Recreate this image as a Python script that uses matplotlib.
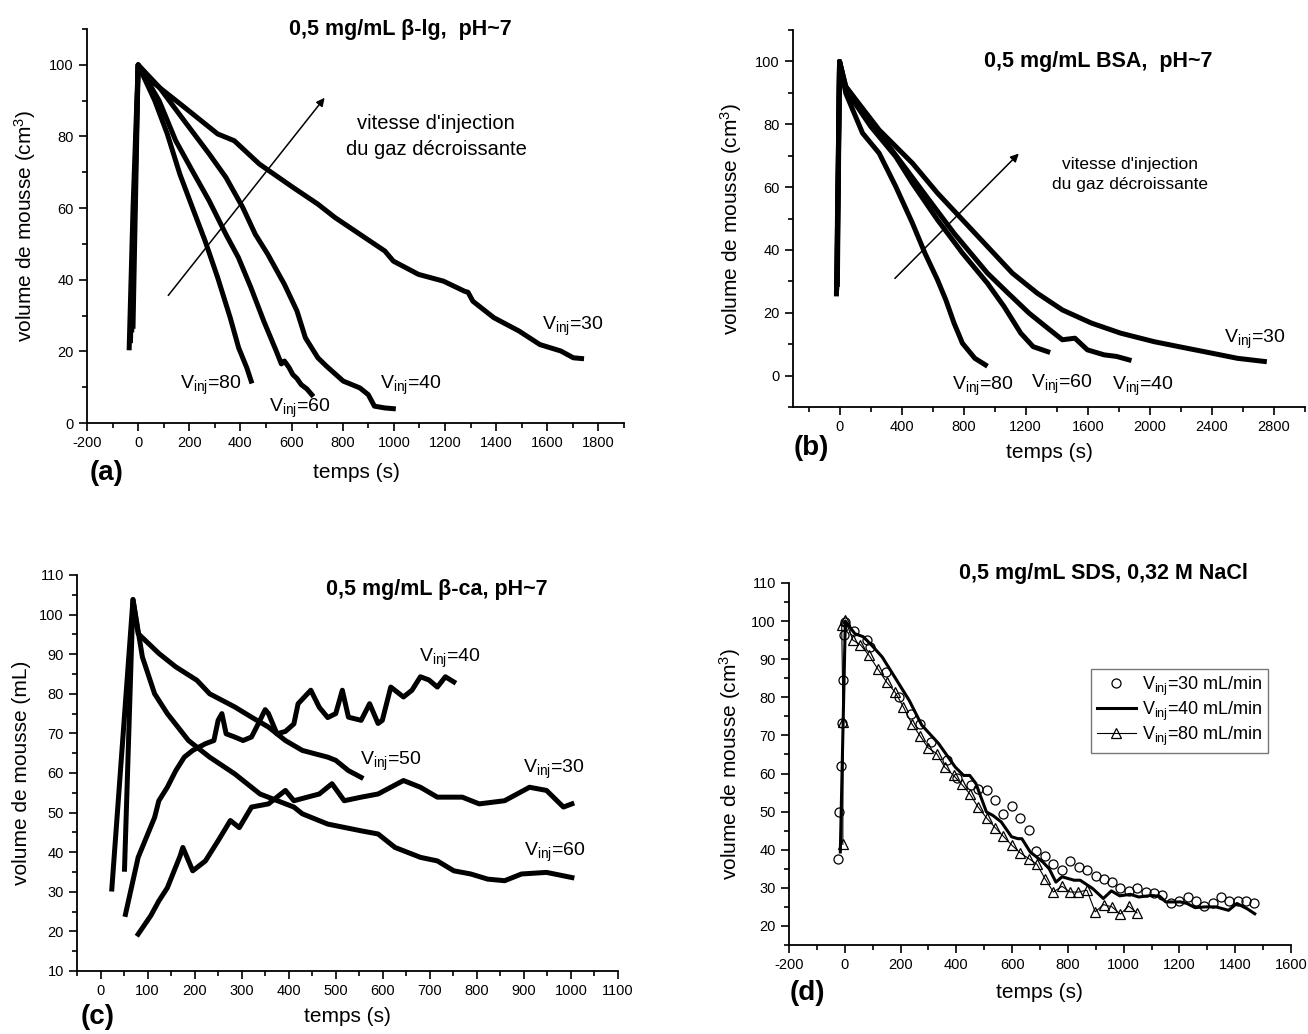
import numpy as np
import matplotlib.pyplot as plt
from matplotlib.ticker import MultipleLocator

plt.rcParams['font.family'] = ['Liberation Sans', 'DejaVu Sans']
plt.rcParams['axes.unicode_minus'] = False
plt.rcParams['mathtext.fontset'] = 'custom'
plt.rcParams['mathtext.rm'] = 'Liberation Sans'
plt.rcParams['mathtext.it'] = 'Liberation Sans:italic'
plt.rcParams['mathtext.bf'] = 'Liberation Sans:bold'
plt.rcParams['mathtext.default'] = 'regular'

# ============================================================================
# Data
# ============================================================================
# (a) 0,5 mg/mL beta-lg
a_t80 = [-35, -20, 0, 65, 114, 163, 212, 262, 311, 360, 393, 425, 442]
a_v80 = [21, 60, 100, 90.0, 80.7, 69.5, 60.2, 50.8, 40.6, 29.4, 21.0, 15.4, 11.7]
a_t60 = [-30, 0, 82, 147, 212, 278, 343, 392, 441, 491, 540, 560, 572, 590, 605, 620, 638, 660, 679]
a_v60 = [23, 100, 90.0, 78.8, 70.4, 62.0, 52.7, 46.2, 37.8, 28.5, 20.1, 16.5, 17.3, 15.5, 13.5, 12.5, 10.7, 9.5, 7.9]
a_t40 = [-25, 0, 82, 180, 278, 343, 409, 458, 507, 572, 621, 654, 703, 736, 802, 867, 900, 924, 965, 998]
a_v40 = [26, 100, 93.8, 84.4, 75.1, 68.6, 60.2, 52.7, 47.1, 38.7, 31.3, 23.8, 18.2, 15.9, 11.7, 9.8, 7.9, 4.7, 4.2, 4.0]
a_t30 = [-20, 0, 49, 180, 311, 376, 474, 605, 703, 769, 867, 965, 998, 1096, 1194, 1276, 1290, 1309,
         1391, 1489, 1571, 1653, 1702, 1734]
a_v30 = [27, 100, 95.6, 88.2, 80.7, 78.8, 72.3, 65.8, 61.1, 57.4, 52.7, 48.0, 45.2, 41.5, 39.6, 36.8,
         36.5, 34.0, 29.4, 25.7, 21.9, 20.1, 18.2, 18.0]

# (b) 0,5 mg/mL BSA
b_t80 = [-20, 0, 40, 148, 255, 362, 470, 550, 631, 685, 738, 792, 872, 940]
b_v80 = [26, 100, 89.9, 77.2, 70.8, 60.2, 48.5, 39.0, 30.5, 24.1, 16.7, 10.3, 5.5, 3.4]
b_t60 = [-18, 0, 40, 201, 362, 470, 631, 792, 953, 1060, 1168, 1248, 1342]
b_v60 = [28, 100, 91.0, 79.3, 69.7, 61.2, 49.6, 39.0, 29.4, 22.0, 13.5, 9.2, 7.6]
b_t40 = [-16, 0, 40, 255, 416, 577, 738, 899, 953, 1087, 1221, 1329, 1436, 1517, 1597, 1705, 1785, 1866]
b_v40 = [30, 100, 92.0, 77.2, 66.6, 55.9, 45.3, 35.8, 32.6, 26.2, 19.9, 15.6, 11.4, 11.9, 8.2, 6.6, 6.1, 5.0]
b_t30 = [-14, 0, 40, 255, 470, 631, 792, 953, 1114, 1275, 1436, 1624, 1812, 2027, 2188, 2403, 2564, 2738]
b_v30 = [29, 100, 92.0, 78.2, 67.6, 58.1, 49.6, 41.1, 32.6, 26.2, 20.9, 16.7, 13.5, 10.8, 9.2, 7.1, 5.5, 4.5]

# (c) 0,5 mg/mL beta-ca
c_t40 = [53, 80, 115, 124, 142, 160, 178, 196, 223, 241, 250, 258, 267, 285, 303, 321, 339, 350,
         357, 375, 393, 411, 420, 447, 465, 483, 500, 514, 527, 554, 572, 590, 599, 617, 644, 662,
         680, 698, 716, 733, 751]
c_v40 = [24.3, 38.7, 48.8, 53.0, 56.4, 60.6, 64.0, 65.7, 67.4, 68.2, 73.3, 75.0, 69.9, 69.1, 68.2,
         69.1, 73.3, 76.0, 75.0, 69.9, 70.5, 72.4, 77.5, 80.9, 76.6, 74.0, 75.0, 80.9, 74.1, 73.3,
         77.5, 72.5, 73.3, 81.7, 79.2, 80.9, 84.3, 83.5, 81.7, 84.3, 83.0]
c_t30 = [80, 107, 124, 142, 169, 175, 196, 223, 250, 276, 295, 321, 357, 393, 411, 465, 492, 518,
         554, 590, 644, 680, 716, 769, 805, 859, 912, 948, 984, 1002]
c_v30 = [19.3, 24.0, 27.7, 31.0, 39.0, 41.2, 35.3, 37.8, 42.9, 48.0, 46.2, 51.4, 52.2, 55.6, 53.0,
         54.7, 57.3, 53.0, 53.9, 54.7, 58.1, 56.4, 53.9, 53.9, 52.2, 53.0, 56.4, 55.6, 51.4, 52.2]
c_t50 = [51, 69, 80, 124, 160, 205, 232, 285, 321, 357, 393, 429, 483, 500, 527, 554]
c_v50 = [35.7, 103.8, 95.2, 90.2, 86.8, 83.4, 80.0, 76.7, 74.1, 71.6, 68.2, 65.7, 64.0, 63.2, 60.6, 58.9]
c_t60 = [24, 69, 89, 115, 142, 187, 232, 285, 339, 411, 429, 483, 554, 590, 626, 680, 716, 751,
         787, 823, 859, 895, 948, 1002]
c_v60 = [30.7, 103.8, 89.3, 80.0, 75.0, 68.2, 64.0, 59.8, 54.7, 51.4, 49.7, 47.1, 45.4, 44.6, 41.2,
         38.7, 37.8, 35.3, 34.5, 33.2, 32.8, 34.5, 34.9, 33.6]

# (d) 0,5 mg/mL SDS, 0,32 M NaCl
d_t30 = [-23, -22, -14, -10, -7, -4, 2, 33, 81, 89, 147, 195, 237, 271, 309, 366, 404, 451, 476,
         511, 539, 569, 601, 629, 659, 687, 719, 747, 780, 808, 840, 868, 900, 930, 958, 988, 1019,
         1049, 1079, 1109, 1139, 1169, 1199, 1229, 1259, 1289, 1319, 1349, 1379, 1409, 1439, 1469]
d_v30 = [37.5, 49.9, 61.9, 73.3, 84.5, 96.4, 99.8, 97.4, 95.0, 93.2, 86.7, 80.1, 75.7, 72.9, 68.3,
         63.5, 58.7, 56.9, 56.0, 55.6, 53.0, 49.5, 51.5, 48.2, 45.3, 39.6, 38.3, 36.2, 34.6, 37.1,
         35.5, 34.6, 33.0, 32.4, 31.5, 30.0, 29.2, 30.0, 28.9, 28.7, 28.2, 25.9, 26.6, 27.6, 26.6,
         25.2, 26.0, 27.6, 26.6, 26.6, 26.6, 25.9]
d_t40 = [-16, 2, 36, 66, 96, 134, 186, 231, 276, 336, 396, 426, 448, 470, 508, 531, 561, 598, 621,
         635, 665, 710, 733, 757, 779, 822, 844, 889, 927, 956, 986, 1024, 1054, 1099, 1129, 1151,
         1204, 1227, 1256, 1293, 1331, 1376, 1406, 1443, 1470]
d_v40 = [39.4, 100, 96.7, 95.9, 93.7, 90.6, 84.5, 79.2, 72.7, 67.9, 61.7, 59.5, 59.5, 57.4, 49.9,
         49.0, 47.3, 43.4, 42.9, 42.9, 39.4, 36.8, 35.0, 31.5, 32.9, 32.0, 32.0, 29.8, 27.2, 29.2,
         27.9, 28.3, 27.6, 28.0, 27.8, 26.3, 26.3, 25.9, 24.8, 25.0, 25.0, 24.1, 25.9, 24.5, 23.2]
d_t80 = [-7, -6, -11, 2, 29, 56, 87, 118, 150, 180, 210, 240, 270, 298, 330, 358, 390, 419, 448,
         478, 510, 539, 569, 599, 629, 659, 689, 718, 748, 779, 808, 838, 868, 898, 928, 958, 988,
         1018, 1048]
d_v80 = [41.4, 73.5, 98.9, 100.2, 95.0, 93.8, 91.0, 87.5, 84.0, 81.4, 77.5, 73.1, 69.9, 66.8, 65.2,
         61.7, 59.5, 57.2, 54.7, 51.2, 48.2, 45.8, 43.5, 41.2, 39.2, 37.7, 36.2, 32.4, 28.9, 30.4,
         28.9, 28.9, 29.4, 23.7, 25.6, 25.0, 23.1, 25.2, 23.4]

# ============================================================================
# Figure
# ============================================================================
W, H = 1308, 1034
fig = plt.figure(figsize=(W / 100, H / 100), dpi=100)


def px_axes(left, top, right, bottom):
    # axes box given in figure pixels
    return fig.add_axes([left / W, 1 - bottom / H, (right - left) / W, (bottom - top) / H])


def ftxt(x, y, s, **kw):
    fig.text(x / W, 1 - y / H, s, **kw)


def style(ax, xlim, ylim, xmaj, xmin, ymaj, ymin):
    ax.set_xlim(*xlim)
    ax.set_ylim(*ylim)
    for s in ('top', 'right'):
        ax.spines[s].set_visible(False)
    for s in ('left', 'bottom'):
        ax.spines[s].set_linewidth(1.3)
    ax.xaxis.set_major_locator(MultipleLocator(xmaj))
    ax.xaxis.set_minor_locator(MultipleLocator(xmin))
    ax.yaxis.set_major_locator(MultipleLocator(ymaj))
    ax.yaxis.set_minor_locator(MultipleLocator(ymin))
    ax.tick_params(which='major', direction='out', length=6, width=1.2, labelsize=10.5)
    ax.tick_params(which='minor', direction='out', length=3.5, width=1.2)
    ax.patch.set_alpha(0)


LW = 3.6
K = 'black'
lab = dict(fontsize=15)
vlab = dict(fontsize=14)
ttl = dict(fontsize=15.5, fontweight='bold', ha='center', va='center')
plab = dict(fontsize=20, fontweight='bold', ha='center', va='center')
arr = dict(arrowstyle='-|>', color=K, lw=1.1, mutation_scale=12)

# ---------------------------------------------------------------- (a)
ax = px_axes(87, 29, 624, 423)
style(ax, (-200, 1900), (0, 110), 200, 100, 20, 10)
for t, v in [(a_t80, a_v80), (a_t60, a_v60), (a_t40, a_v40), (a_t30, a_v30)]:
    ax.plot(t, v, color=K, lw=LW, solid_joinstyle='round')
ax.annotate('', xy=(736, 91.4), xytext=(111, 35.0), arrowprops=arr)
ax.text(1165, 80, "vitesse d'injection\ndu gaz décroissante", ha='center', va='center',
        fontsize=14.5, linespacing=1.45)
ax.text(1580, 26, 'V$_{inj}$=30', **vlab)
ax.text(165, 9.5, 'V$_{inj}$=80', **vlab)
ax.text(510, 3.2, 'V$_{inj}$=60', **vlab)
ax.text(945, 9.5, 'V$_{inj}$=40', **vlab)
ax.set_ylabel('volume de mousse (cm$^3$)', labelpad=8, **lab)
ftxt(400, 29, '0,5 mg/mL β-lg,  pH~7', **ttl)
ftxt(107, 473, '(a)', **plab)
ftxt(356, 473, 'temps (s)', ha='center', va='center', **lab)

# ---------------------------------------------------------------- (b)
ax = px_axes(793, 30, 1305, 407)
style(ax, (-300, 3000), (-10, 110), 400, 200, 20, 10)
for t, v in [(b_t80, b_v80), (b_t60, b_v60), (b_t40, b_v40), (b_t30, b_v30)]:
    ax.plot(t, v, color=K, lw=LW, solid_joinstyle='round')
ax.annotate('', xy=(1168, 71.3), xytext=(344, 30.3), arrowprops=arr)
ax.text(1870, 64, "vitesse d'injection\ndu gaz décroissante", ha='center', va='center',
        fontsize=12.5, linespacing=1.45)
ax.text(2480, 10.5, 'V$_{inj}$=30', **vlab)
ax.text(725, -4.5, 'V$_{inj}$=80', **vlab)
ax.text(1235, -4, 'V$_{inj}$=60', **vlab)
ax.text(1758, -4.5, 'V$_{inj}$=40', **vlab)
ax.set_ylabel('volume de mousse (cm$^3$)', labelpad=8, **lab)
ftxt(1098, 62, '0,5 mg/mL BSA,  pH~7', **ttl)
ftxt(811, 448, '(b)', **plab)
ftxt(1049, 453, 'temps (s)', ha='center', va='center', **lab)

# ---------------------------------------------------------------- (c)
ax = px_axes(77, 575, 618, 971)
style(ax, (-50, 1100), (10, 110), 100, 50, 10, 5)
for t, v in [(c_t60, c_v60), (c_t50, c_v50), (c_t40, c_v40), (c_t30, c_v30)]:
    ax.plot(t, v, color=K, lw=LW, solid_joinstyle='round')
ax.text(678, 88, 'V$_{inj}$=40', **vlab)
ax.text(552, 62, 'V$_{inj}$=50', **vlab)
ax.text(897, 60, 'V$_{inj}$=30', **vlab)
ax.text(901, 39, 'V$_{inj}$=60', **vlab)
ax.set_ylabel('volume de mousse (mL)', labelpad=6, **lab)
ftxt(437, 590, '0,5 mg/mL β-ca, pH~7', **ttl)
ftxt(98, 1017, '(c)', **plab)
ftxt(347, 1017, 'temps (s)', ha='center', va='center', **lab)

# ---------------------------------------------------------------- (d)
ax = px_axes(789, 583, 1291, 945)
style(ax, (-200, 1600), (15, 110), 200, 100, 10, 5)
ax.plot(d_t30, d_v30, ls='none', marker='o', ms=6.5, mfc='none', mec=K, mew=0.9,
        label='V$_{inj}$=30 mL/min')
ax.plot(d_t40, d_v40, color=K, lw=2.2, label='V$_{inj}$=40 mL/min')
ax.plot(d_t80, d_v80, color=K, lw=0.8, marker='^', ms=7, mfc='none', mec=K, mew=0.9,
        label='V$_{inj}$=80 mL/min')
leg = ax.legend(loc='upper left', bbox_to_anchor=(0.602, 0.762), frameon=True, fancybox=False,
                edgecolor='#555555', prop={'size': 13}, handlelength=2.2,
                handletextpad=0.3, borderpad=0.3, labelspacing=0.1, borderaxespad=0)
leg.get_frame().set_linewidth(1.0)
ax.set_ylabel('volume de mousse (cm$^3$)', labelpad=6, **lab)
ftxt(1103, 573, '0,5 mg/mL SDS, 0,32 M NaCl', **ttl)
ftxt(807, 993, '(d)', **plab)
ftxt(1039, 993, 'temps (s)', ha='center', va='center', **lab)

plt.savefig('out.png', dpi=100)
plt.close()
